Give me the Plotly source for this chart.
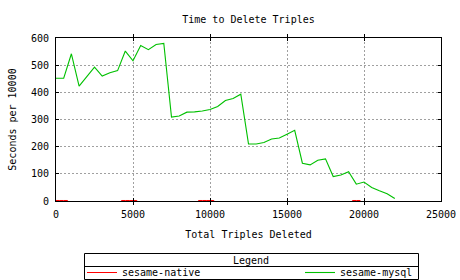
import plotly.graph_objects as go

triples = [0, 500, 1000, 1500, 2000, 2500, 3000, 3500, 4000, 4500, 5000, 5500, 6000, 6500, 7000,
           7500, 8000, 8500, 9000, 9500, 10000, 10500, 11000, 11500, 12000, 12500, 13000, 13500,
           14000, 14500, 15000, 15500, 16000, 16500, 17000, 17500, 18000, 18500, 19000, 19500,
           20000, 20500, 21000, 21500, 22000]
mysql = [452, 452, 542, 423, 458, 493, 460, 472, 480, 552, 516, 572, 557, 576, 580,
         309, 313, 327, 328, 331, 337, 348, 370, 377, 393, 210, 210, 215,
         228, 232, 246, 260, 139, 133, 150, 155, 90, 96, 108, 62,
         70, 50, 38, 27, 9]
native = [3.7, 3.7, 0, 0, 0, 0, 0, 0, 0, 3.7, 3.7, 0, 0, 0, 0,
          0, 0, 0, 0, 3.7, 3.7, 0, 0, 0, 0, 0, 0, 0,
          0, 0, 0, 0, 0, 0, 0, 0, 0, 0, 0, 3.7,
          0, 0, 0, 0, 0]

FONT = "DejaVu Sans Mono"

fig = go.Figure()
fig.add_trace(go.Scatter(x=triples, y=native, mode="lines", name="sesame-native",
                         line=dict(color="#ff0000", width=1, shape="hvh"),
                         yaxis="y2", legend="legend"))
fig.add_trace(go.Scatter(x=triples, y=mysql, mode="lines", name="sesame-mysql",
                         line=dict(color="#00c000", width=1.1), legend="legend2"))

axis_common = dict(showline=True, linecolor="black", linewidth=1, mirror="allticks",
                   ticks="inside", ticklen=3, tickcolor="black",
                   showgrid=True, gridcolor="#a0a0a0", griddash="2px,2px", gridwidth=1,
                   zeroline=False, layer="above traces",
                   tickfont=dict(family=FONT, size=10, color="black"))

fig.update_layout(
    xaxis=dict(range=[0, 25000], dtick=5000, tick0=0, tickformat="d", **axis_common,
               title=dict(text="Total Triples Deleted", font=dict(family=FONT, size=10, color="black"),
                          standoff=11),
               ticklabelstandoff=4),
    yaxis=dict(range=[0, 600], dtick=100, tick0=0, tickformat="d", **axis_common,
               title=dict(text="Seconds per 10000", font=dict(family=FONT, size=10, color="black"),
                          standoff=12),
               ticklabelstandoff=4),
    # same scale as yaxis, offset half a pixel so a zero value sits under the border
    yaxis2=dict(overlaying="y", range=[1.84, 601.84], visible=False, showgrid=False),
)

# legend frame
fig.add_shape(type="rect", xref="paper", yref="paper",
              x0=(84.5 - 56) / 385, x1=(418.5 - 56) / 385,
              y0=(201 - 279.5) / 163, y1=(201 - 253.5) / 163,
              line=dict(color="black", width=1))
fig.add_shape(type="line", xref="paper", yref="paper",
              x0=(84.5 - 56) / 385, x1=(418.5 - 56) / 385,
              y0=(201 - 266.5) / 163, y1=(201 - 266.5) / 163,
              line=dict(color="black", width=1))
fig.add_annotation(text="Legend", xref="paper", yref="paper", showarrow=False,
                   x=(251 - 56) / 385, y=(201 - 260) / 163, xanchor="center", yanchor="middle",
                   font=dict(family=FONT, size=10, color="black"))

leg_common = dict(orientation="h", xref="container", yref="container",
                  y=1 - 272.5 / 280, xanchor="left", yanchor="middle",
                  bgcolor="rgba(0,0,0,0)", borderwidth=0,
                  font=dict(family=FONT, size=10, color="black"), itemwidth=30)

fig.update_layout(
    width=460, height=280,
    margin=dict(l=56, r=19, t=38, b=79, autoexpand=False),
    paper_bgcolor="white", plot_bgcolor="white",
    title=dict(text="Time to Delete Triples", x=(248.5) / 460, xanchor="center",
               y=1 - 19 / 280, yanchor="middle", font=dict(family=FONT, size=10, color="black")),
    legend=dict(x=82 / 460, **leg_common),
    legend2=dict(x=300 / 460, **leg_common),
    showlegend=True,
)

fig.write_html("out.html")
